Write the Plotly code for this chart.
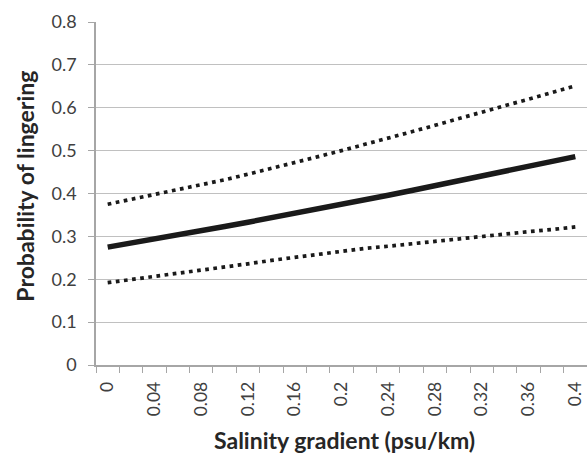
import plotly.graph_objects as go

# Salinity gradient categories (psu/km)
categories = ["0", "0.02", "0.04", "0.06", "0.08", "0.1", "0.12", "0.14", "0.16", "0.18",
              "0.2", "0.22", "0.24", "0.26", "0.28", "0.3", "0.32", "0.34", "0.36", "0.38", "0.4"]
# labels shown on axis (every other category)
tick_labels = [c if i % 2 == 0 else "" for i, c in enumerate(categories)]

estimate = [0.275, 0.284, 0.294, 0.303, 0.313, 0.323, 0.333, 0.343, 0.353, 0.364, 0.375,
            0.385, 0.396, 0.407, 0.418, 0.430, 0.441, 0.452, 0.463, 0.475, 0.486]
upper = [0.375, 0.386, 0.397, 0.408, 0.420, 0.432, 0.445, 0.458, 0.472, 0.486, 0.500,
         0.514, 0.529, 0.544, 0.559, 0.575, 0.590, 0.605, 0.620, 0.636, 0.651]
lower = [0.192, 0.199, 0.207, 0.214, 0.222, 0.229, 0.236, 0.244, 0.251, 0.259, 0.266,
         0.272, 0.277, 0.283, 0.288, 0.294, 0.300, 0.305, 0.311, 0.316, 0.322]

FONT = "Lato, 'Liberation Sans', sans-serif"
INK = "#1a1a1a"

fig = go.Figure()
fig.add_trace(go.Scatter(x=categories, y=upper, mode="lines",
                         line=dict(color=INK, width=3.7, dash="3.7px,4.5px")))
fig.add_trace(go.Scatter(x=categories, y=lower, mode="lines",
                         line=dict(color=INK, width=3.7, dash="3.7px,4.5px")))
fig.add_trace(go.Scatter(x=categories, y=estimate, mode="lines",
                         line=dict(color=INK, width=5.5)))

fig.update_layout(
    width=587, height=453,
    margin=dict(l=96, r=0, t=22, b=88, autoexpand=False),
    paper_bgcolor="white", plot_bgcolor="white",
    showlegend=False,
    font=dict(family=FONT, color="#404040", size=17),
)
fig.update_xaxes(
    type="category", tickson="boundaries", automargin=False,
    range=[-0.5, len(categories) - 0.5],
    tickmode="array", tickvals=categories, ticktext=tick_labels,
    tickangle=-90, ticks="outside", ticklen=6, tickcolor="#a6a6a6",
    ticklabelstandoff=8,
    showline=True, linecolor="#a6a6a6", linewidth=1.5,
    showgrid=False, zeroline=False,
    tickfont=dict(size=17.5, color="#404040"),
)
fig.update_yaxes(
    range=[0, 0.8], dtick=0.1, tick0=0, automargin=False,
    ticks="outside", ticklen=6, tickcolor="#a6a6a6",
    ticklabelstandoff=8,
    showline=True, linecolor="#a6a6a6", linewidth=1.5,
    showgrid=True, gridcolor="#c0c0c0", gridwidth=1.2,
    zeroline=False,
    tickfont=dict(size=18, color="#404040"),
)
fig.add_annotation(text="<b>Probability of lingering</b>", xref="paper", yref="paper",
                   x=-0.1446, y=0.52, xanchor="center", yanchor="middle", textangle=-90,
                   showarrow=False, font=dict(size=23, color="#262626", family=FONT))
fig.add_annotation(text="<b>Salinity gradient (psu/km)</b>", xref="paper", yref="paper",
                   x=0.507, y=-0.219, xanchor="center", yanchor="middle",
                   showarrow=False, font=dict(size=23, color="#262626", family=FONT))

fig.write_html("out.html", config={"displayModeBar": False},
               post_script="document.body.style.margin='0px';")
